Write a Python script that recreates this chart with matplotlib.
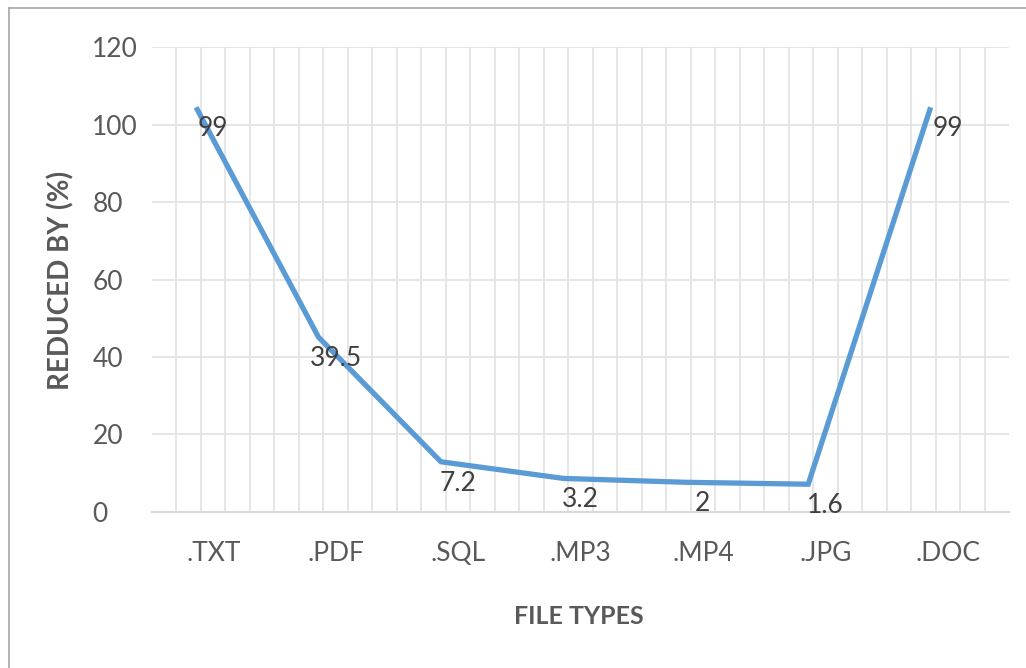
import numpy as np
import matplotlib
matplotlib.use('Agg')
import matplotlib.pyplot as plt
from matplotlib.lines import Line2D

# данные
file_types = ['.TXT', '.PDF', '.SQL', '.MP3', '.MP4', '.JPG', '.DOC']
line_values = [104.5, 45.1, 12.9, 8.6, 7.6, 7.1, 104.5]   # where the blue line sits
label_values = [99, 39.5, 7.2, 3.2, 2, 1.6, 99]           # data labels printed on chart
label_texts = ['99', '39.5', '7.2', '3.2', '2', '1.6', '99']
y_ticks = [0, 20, 40, 60, 80, 100, 120]

FONT = ['Lato', 'DejaVu Sans']
TICK_C = '#595959'
GRID_C = '#e4e4e4'
LINE_C = '#5b9bd5'
LINE_SHIFT = -0.14  # line is drawn slightly left of the category centres

plt.rcParams['font.family'] = FONT

fig = plt.figure(figsize=(10.26, 6.68), dpi=100)
ax = fig.add_axes([152 / 1026, 1 - 511.7 / 668, 857 / 1026, 464.4 / 668])

x = np.arange(len(file_types))
ax.plot(x + LINE_SHIFT, line_values, color=LINE_C, lw=3.8,
        solid_joinstyle='miter', solid_capstyle='butt', zorder=5)

for xi, v, t in zip(x, label_values, label_texts):
    ax.text(xi, v, t, ha='center', va='center', fontsize=19,
            color='#404040', zorder=6)

ax.set_xlim(-0.5, len(file_types) - 0.5)
ax.set_ylim(0, 120)
ax.set_yticks(y_ticks)
ax.set_xticks(x)
ax.set_xticklabels(file_types)
ax.set_xticks(np.arange(-0.3, 6.4, 0.2), minor=True)

ax.grid(axis='y', which='major', color=GRID_C, lw=1.3, zorder=0)
ax.grid(axis='x', which='minor', color=GRID_C, lw=1.3, zorder=0)
ax.set_axisbelow(True)

for s in ['top', 'right', 'left']:
    ax.spines[s].set_visible(False)
ax.spines['bottom'].set_color('#d9d9d9')
ax.spines['bottom'].set_linewidth(1.5)

ax.tick_params(axis='both', which='both', length=0, labelsize=19,
               labelcolor=TICK_C)
ax.tick_params(axis='y', pad=43)   # y labels are left-aligned in the original
ax.tick_params(axis='x', pad=21)
for lbl in ax.get_yticklabels():
    lbl.set_horizontalalignment('left')

# axis titles placed where they sit in the original
fig.text(61 / 1026, 1 - 280 / 668, 'REDUCED BY (%)', rotation=90,
         ha='center', va='center', fontsize=20, fontweight='bold', color=TICK_C)
fig.text(579 / 1026, 1 - 617 / 668, 'FILE TYPES',
         ha='center', va='center', fontsize=18, fontweight='bold', color=TICK_C)

# outer frame of the pasted chart (only left and top edges visible)
fig.add_artist(Line2D([8.5 / 1026, 8.5 / 1026], [0, 1 - 8 / 668],
                      transform=fig.transFigure, color='#a6a6a6', lw=1.2))
fig.add_artist(Line2D([8.5 / 1026, 1], [1 - 8 / 668, 1 - 8 / 668],
                      transform=fig.transFigure, color='#a6a6a6', lw=1.2))

fig.savefig('out.png', dpi=100)
